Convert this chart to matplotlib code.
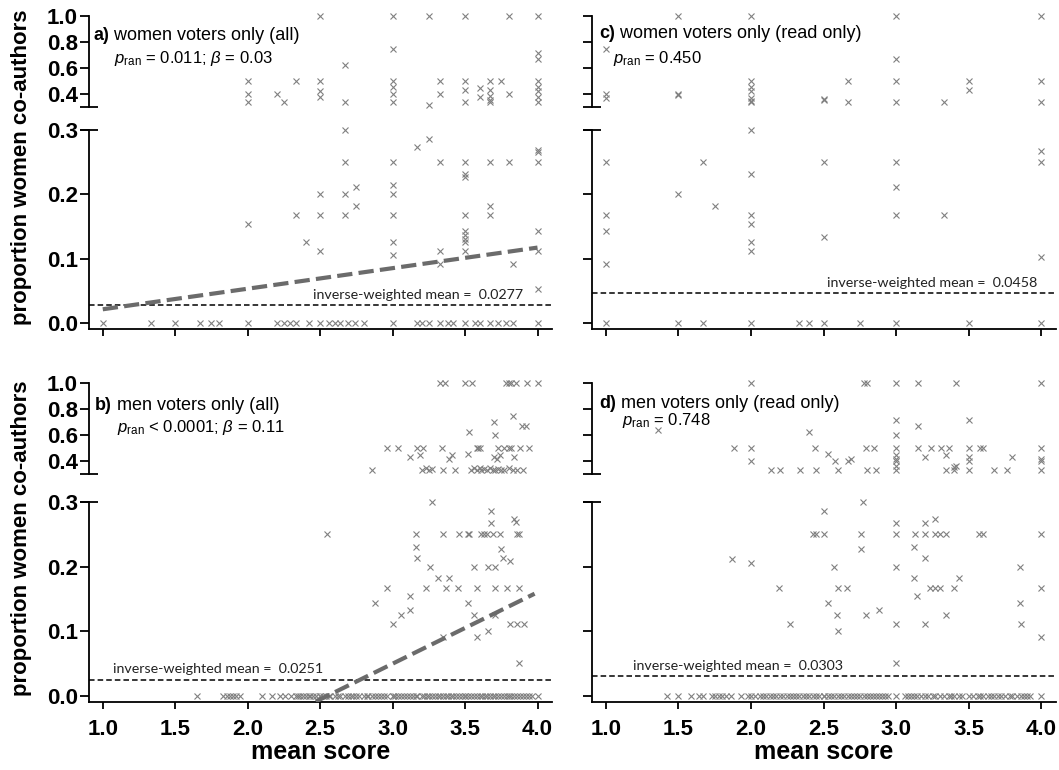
import numpy as np
import matplotlib
matplotlib.use("Agg")
from matplotlib import pyplot as plt
from matplotlib.lines import Line2D

plt.rcParams['font.family'] = ['Liberation Sans', 'DejaVu Sans']
plt.rcParams['mathtext.fontset'] = 'custom'
plt.rcParams['mathtext.rm'] = 'Liberation Sans'
plt.rcParams['mathtext.it'] = 'Liberation Sans:italic'
plt.rcParams['mathtext.bf'] = 'Liberation Sans:bold'
plt.rcParams['lines.scale_dashes'] = False

# ---------------- data ----------------
# a) women voters only (all)
a_x = [2.5, 3.0, 3.25, 3.5, 3.8, 4.0, 3.0, 2.67, 4.0, 4.0,
       2.0, 2.0, 2.0, 2.2, 2.25, 2.33, 2.5, 2.5, 2.5, 2.67,
       3.0, 3.0, 3.0, 3.0, 3.25, 3.33, 3.33, 3.5, 3.5, 3.5, 3.6, 3.6,
       3.67, 3.67, 3.67, 3.67, 3.67, 3.75, 3.8, 4.0, 4.0, 4.0, 4.0, 4.0,
       2.0, 2.33, 2.4, 2.5, 2.5, 2.5, 2.67, 2.67, 2.67, 2.67, 2.75, 2.75,
       3.0, 3.0, 3.0, 3.0, 3.0, 3.0, 3.17, 3.25, 3.33, 3.33, 3.33,
       3.5, 3.5, 3.5, 3.5, 3.5, 3.5, 3.5, 3.5, 3.5, 3.67, 3.67, 3.67,
       3.8, 3.83, 4.0, 4.0, 4.0, 4.0, 4.0, 4.0]
a_y = [1.0, 1.0, 1.0, 1.0, 1.0, 1.0, 0.75, 0.625, 0.714, 0.667,
       0.5, 0.4, 0.333, 0.4, 0.333, 0.5, 0.5, 0.417, 0.375, 0.333,
       0.5, 0.45, 0.4, 0.333, 0.312, 0.5, 0.4, 0.5, 0.429, 0.333, 0.444, 0.375,
       0.5, 0.429, 0.385, 0.35, 0.333, 0.5, 0.4, 0.5, 0.455, 0.417, 0.375, 0.333,
       0.154, 0.167, 0.125, 0.2, 0.167, 0.111, 0.3, 0.25, 0.2, 0.167, 0.211, 0.182,
       0.25, 0.214, 0.2, 0.167, 0.125, 0.105, 0.273, 0.286, 0.25, 0.111, 0.091,
       0.25, 0.231, 0.227, 0.167, 0.143, 0.136, 0.13, 0.125, 0.111, 0.25, 0.182, 0.167,
       0.25, 0.091, 0.269, 0.265, 0.25, 0.143, 0.111, 0.053]
a_zero = [1.0, 1.33, 1.5, 1.67, 1.75, 1.8, 2.0, 2.2, 2.25, 2.29, 2.33, 2.42,
          2.5, 2.56, 2.6, 2.64, 2.69, 2.74, 2.8, 3.0, 3.17, 3.2, 3.25, 3.33,
          3.38, 3.42, 3.5, 3.57, 3.6, 3.67, 3.73, 3.78, 3.83, 4.0]
a_reg_x = [1.0, 4.0]
a_reg_y = [0.021, 0.117]
a_mean = 0.0277

# b) men voters only (all)
b_x = [3.33, 3.36, 3.5, 3.55, 3.78, 3.8, 3.82, 3.85, 3.93, 4.0,
       3.7, 3.83, 3.89, 3.92, 3.53, 3.71,
       2.96, 3.04, 3.17, 3.21, 3.34, 3.58, 3.59, 3.6, 3.73, 3.77, 3.8, 3.82, 3.88, 3.94,
       3.12, 3.19, 3.39, 3.41, 3.52, 3.7, 3.72, 3.74, 3.84,
       2.86, 3.2, 3.23, 3.25, 3.27, 3.35, 3.43, 3.54, 3.56, 3.58, 3.6, 3.61, 3.63,
       3.65, 3.67, 3.69, 3.71, 3.73, 3.75, 3.77, 3.8, 3.83, 3.86, 3.9,
       2.55, 3.27, 3.68, 3.68, 3.84, 3.85,
       3.16, 3.35, 3.46, 3.52, 3.53, 3.61, 3.63, 3.65, 3.69, 3.74, 3.86, 3.87,
       3.16, 3.17, 3.26, 3.75, 3.76, 3.81, 3.56, 3.66, 3.71, 3.31, 3.39,
       2.96, 3.23, 3.37, 3.45, 3.58, 3.71, 3.79, 3.87,
       3.12, 3.52, 2.88, 3.12, 3.06, 3.0, 3.56, 3.71, 3.58, 3.66,
       3.81, 3.86, 3.91, 3.35, 3.87]
b_y = [1.0, 1.0, 1.0, 1.0, 1.0, 1.0, 1.0, 1.0, 1.0, 1.0,
       0.7, 0.75, 0.667, 0.667, 0.625, 0.6,
       0.5, 0.5, 0.5, 0.5, 0.5, 0.5, 0.5, 0.5, 0.5, 0.5, 0.5, 0.5, 0.5, 0.5,
       0.429, 0.444, 0.417, 0.444, 0.455, 0.429, 0.417, 0.444, 0.429,
       0.333, 0.333, 0.35, 0.333, 0.34, 0.333, 0.333, 0.333, 0.345, 0.333, 0.35, 0.333, 0.34,
       0.333, 0.345, 0.333, 0.333, 0.34, 0.333, 0.333, 0.345, 0.333, 0.333, 0.333,
       0.25, 0.3, 0.286, 0.267, 0.273, 0.269,
       0.25, 0.25, 0.25, 0.25, 0.25, 0.25, 0.25, 0.25, 0.25, 0.25, 0.25, 0.25,
       0.231, 0.214, 0.2, 0.227, 0.214, 0.208, 0.2, 0.2, 0.2, 0.182, 0.182,
       0.167, 0.167, 0.167, 0.167, 0.167, 0.167, 0.167, 0.167,
       0.154, 0.143, 0.143, 0.133, 0.125, 0.111, 0.125, 0.125, 0.091, 0.1,
       0.111, 0.111, 0.111, 0.091, 0.05]
b_zero = [1.65, 1.83, 1.86, 1.88, 1.9, 1.92, 1.95, 2.1, 2.17, 2.22, 2.26, 2.3,
          2.33, 2.35, 2.36, 2.38, 2.4, 2.42, 2.43, 2.45, 2.47, 2.5, 2.5, 2.52,
          2.54, 2.56, 2.57, 2.6, 2.62, 2.64, 2.67, 2.69, 2.71, 2.73, 2.75, 2.77,
          2.8, 2.82, 2.83, 2.86, 2.88, 2.9, 2.92, 2.94, 2.96, 3.0, 3.0, 3.02,
          3.04, 3.06, 3.08, 3.1, 3.12, 3.14, 3.16, 3.17, 3.2, 3.22, 3.24, 3.25,
          3.27, 3.29, 3.31, 3.33, 3.35, 3.37, 3.38, 3.4, 3.42, 3.44, 3.46, 3.48,
          3.5, 3.5, 3.52, 3.54, 3.56, 3.58, 3.6, 3.62, 3.64, 3.65, 3.67, 3.69,
          3.71, 3.73, 3.75, 3.77, 3.79, 3.8, 3.82, 3.84, 3.86, 3.88, 3.9, 3.92,
          3.94, 3.96, 4.0]
b_reg_x = [2.47, 3.98]
b_reg_y = [-0.009, 0.158]
b_mean = 0.0251

# c) women voters only (read only)
c_x = [1.0, 1.0, 1.0, 1.5, 1.5, 1.5, 2.0, 2.0, 2.0, 2.0, 2.0, 2.0, 2.0,
       2.5, 2.5, 2.67, 2.67, 3.0, 3.0, 3.0, 3.0, 3.33, 3.5, 3.5, 4.0, 4.0, 4.0,
       1.0, 1.0, 1.0, 1.0, 1.67, 1.5, 1.75, 2.0, 2.0, 2.0, 2.0, 2.0, 2.0,
       2.5, 2.5, 3.0, 3.0, 3.0, 3.33, 4.0, 4.0, 4.0]
c_y = [0.75, 0.4, 0.364, 1.0, 0.4, 0.391, 1.0, 0.5, 0.455, 0.417, 0.364, 0.333, 0.34,
       0.357, 0.35, 0.5, 0.333, 1.0, 0.667, 0.5, 0.333, 0.333, 0.5, 0.429, 1.0, 0.5, 0.333,
       0.25, 0.167, 0.143, 0.091, 0.25, 0.2, 0.182, 0.3, 0.231, 0.167, 0.154, 0.125, 0.111,
       0.25, 0.133, 0.25, 0.211, 0.167, 0.167, 0.267, 0.25, 0.103]
c_zero = [1.0, 1.5, 1.67, 2.0, 2.33, 2.4, 2.5, 2.75, 3.0, 3.5, 4.0]
c_mean = 0.0458

# d) men voters only (read only)
d_x = [2.0, 2.78, 2.8, 3.0, 3.15, 3.41, 4.0,
       1.36, 3.0, 3.5, 3.15, 2.4, 3.0,
       1.88, 2.0, 2.44, 2.79, 2.85, 3.0, 3.15, 3.24, 3.31, 3.36, 3.5, 3.58, 3.6, 4.0,
       2.0, 2.53, 2.58, 2.67, 2.69, 3.2, 3.34, 3.8,
       3.0, 3.0, 3.0, 3.0, 3.0, 3.5, 3.5, 3.5, 3.4, 3.41, 4.0, 4.0,
       2.14, 2.2, 2.34, 2.45, 2.6, 2.8, 2.86, 3.34, 3.4, 3.67, 3.76, 4.0,
       2.77, 2.5, 3.0, 3.2, 3.27,
       2.43, 2.45, 2.5, 2.76, 3.0, 3.13, 3.2, 3.27, 3.3, 3.34, 3.57, 3.6, 4.0,
       2.76, 3.12, 3.2, 1.87, 2.0, 2.57, 3.0, 3.85, 3.12, 3.43,
       2.19, 2.6, 2.66, 3.23, 3.27, 3.3, 3.4, 4.0,
       3.14, 2.53, 3.85, 2.59, 2.79, 2.88, 3.34, 2.27, 2.6, 3.0, 3.2, 3.86, 4.0, 3.0]
d_y = [1.0, 1.0, 1.0, 1.0, 1.0, 1.0, 1.0,
       0.64, 0.714, 0.714, 0.667, 0.625, 0.6,
       0.5, 0.5, 0.5, 0.5, 0.5, 0.5, 0.5, 0.5, 0.5, 0.5, 0.5, 0.5, 0.5, 0.5,
       0.4, 0.455, 0.4, 0.4, 0.417, 0.429, 0.444, 0.429,
       0.444, 0.417, 0.4, 0.364, 0.333, 0.429, 0.4, 0.333, 0.357, 0.364, 0.417, 0.4,
       0.333, 0.333, 0.333, 0.333, 0.333, 0.333, 0.333, 0.333, 0.333, 0.333, 0.333, 0.333,
       0.3, 0.286, 0.267, 0.267, 0.273,
       0.25, 0.25, 0.25, 0.25, 0.25, 0.25, 0.25, 0.25, 0.25, 0.25, 0.25, 0.25, 0.25,
       0.227, 0.231, 0.214, 0.211, 0.205, 0.2, 0.2, 0.2, 0.182, 0.182,
       0.167, 0.167, 0.167, 0.167, 0.167, 0.167, 0.167, 0.167,
       0.154, 0.143, 0.143, 0.125, 0.125, 0.133, 0.125, 0.111, 0.1, 0.111, 0.111, 0.111, 0.091, 0.05]
d_zero = [1.42, 1.5, 1.59, 1.64, 1.67, 1.73, 1.75, 1.78, 1.8, 1.83, 1.86, 1.93,
          1.98, 2.0, 2.03, 2.06, 2.08, 2.1, 2.13, 2.15, 2.17, 2.2, 2.22, 2.25,
          2.27, 2.29, 2.31, 2.33, 2.36, 2.38, 2.4, 2.43, 2.45, 2.47, 2.5, 2.5,
          2.53, 2.55, 2.57, 2.6, 2.62, 2.64, 2.67, 2.69, 2.71, 2.73, 2.75, 2.78,
          2.8, 2.82, 2.84, 2.86, 2.88, 2.9, 2.92, 2.94, 3.0, 3.06, 3.08, 3.1,
          3.12, 3.14, 3.17, 3.2, 3.22, 3.25, 3.27, 3.3, 3.33, 3.36, 3.38, 3.4,
          3.43, 3.45, 3.5, 3.53, 3.56, 3.58, 3.6, 3.63, 3.65, 3.67, 3.7, 3.72,
          3.75, 3.78, 3.8, 3.83, 3.86, 3.88, 3.9, 3.92, 4.0]
d_mean = 0.0303

# ---------------- layout (pixels) ----------------
W, H = 1059, 770
fig = plt.figure(figsize=(W / 100, H / 100), dpi=100)

col_lr = [(89, 552), (592, 1056)]
row_up = [(16.5, 106.5), (383, 474)]
row_lo = [(130, 329), (502, 702)]
XLIM = (0.905, 4.1)
MK = dict(ls='none', marker='x', color='0.5', ms=5, mew=0.8, clip_on=False, zorder=3)
TICKFONT = dict(family='Liberation Sans', weight='bold', size=16)


def add_ax(l, t, r, b):
    return fig.add_axes([l / W, 1 - b / H, (r - l) / W, (b - t) / H])


def cap(x, y):
    # small horizontal bar marking the broken axis
    fig.add_artist(Line2D([(x - 9) / W, (x + 9) / W], [1 - y / H, 1 - y / H],
                          transform=fig.transFigure, color='black', lw=1.3,
                          solid_capstyle='butt'))


def panel(col, row, xs, ys, zeros, mean, mean_x, mean_ha, letter, title,
          stat, title_pos, stat_pos, reg=None):
    l, r = col_lr[col]
    ut, ub = row_up[row]
    lt, lb = row_lo[row]
    xs = np.array(xs)
    ys = np.array(ys)

    up = add_ax(l, ut, r, ub)
    lo = add_ax(l, lt, r, lb)
    for ax in (up, lo):
        ax.set_xlim(*XLIM)
        ax.patch.set_visible(False)
        for s in ('top', 'right'):
            ax.spines[s].set_visible(False)
        ax.spines['left'].set_linewidth(1.3)
        ax.tick_params(axis='y', direction='out', length=6.5, width=1.3, pad=1.5)
    up.spines['bottom'].set_visible(False)
    up.set_xticks([])
    up.set_ylim(0.3, 1.0)
    up.set_yticks([0.4, 0.6, 0.8, 1.0])
    lo.set_ylim(-0.0097, 0.3)
    lo.set_yticks([0.0, 0.1, 0.2, 0.3])
    lo.spines['bottom'].set_linewidth(1.3)
    lo.set_xticks([1.0, 1.5, 2.0, 2.5, 3.0, 3.5, 4.0])
    lo.tick_params(axis='x', direction='out', length=5, width=1.3, pad=7)
    if col == 0:
        up.set_yticklabels(['0.4', '0.6', '0.8', '1.0'], **TICKFONT)
        lo.set_yticklabels(['0.0', '0.1', '0.2', '0.3'], **TICKFONT)
    else:
        up.set_yticklabels([])
        lo.set_yticklabels([])
    if row == 1:
        lo.set_xticklabels(['1.0', '1.5', '2.0', '2.5', '3.0', '3.5', '4.0'], **TICKFONT)
    else:
        lo.set_xticklabels([])

    hi = ys > 0.3
    up.plot(xs[hi], ys[hi], **MK)
    lo.plot(xs[~hi], ys[~hi], **MK)
    lo.plot(zeros, np.zeros(len(zeros)), **MK)

    lo.axhline(mean, color='black', lw=1.1, dashes=(4, 2.2), zorder=4)
    lo.annotate('inverse-weighted mean =  %.4f' % mean, xy=(mean_x, mean),
                xytext=(0, 3), textcoords='offset points', ha=mean_ha,
                va='bottom', family='Lato', size=10.3, color='#222222')
    if reg is not None:
        lo.plot(reg[0], reg[1], color='0.42', lw=3, dashes=(11, 4.5), zorder=5)

    cap(l, ub)
    cap(l, lt)

    t = fig.text((l + title_pos[0]) / W, 1 - (ut + title_pos[1]) / H, letter,
                 weight='bold', size=13, va='baseline')
    up.annotate(title, xy=(1, 0), xycoords=t, va='bottom', size=13)
    fig.text((l + stat_pos[0]) / W, 1 - (ut + stat_pos[1]) / H, stat, size=12,
             va='baseline')
    return up, lo


panel(0, 0, a_x, a_y, a_zero, a_mean, 3.9, 'right', 'a)',
      ' women voters only (all)',
      r'$p_{\mathrm{ran}}$ = 0.011; $\beta$ = 0.03', (4, 23.5), (24.5, 46),
      reg=(a_reg_x, a_reg_y))
panel(0, 1, b_x, b_y, b_zero, b_mean, 1.07, 'left', 'b)',
      ' men voters only (all)',
      r'$p_{\mathrm{ran}}$ < 0.0001; $\beta$ = 0.11', (6, 27), (28, 49),
      reg=(b_reg_x, b_reg_y))
panel(1, 0, c_x, c_y, c_zero, c_mean, 3.97, 'right', 'c)',
      ' women voters only (read only)', r'$p_{\mathrm{ran}}$ = 0.450',
      (7, 22), (21, 46))
panel(1, 1, d_x, d_y, d_zero, d_mean, 1.19, 'left', 'd)',
      ' men voters only (read only)', r'$p_{\mathrm{ran}}$ = 0.748',
      (7, 25), (30, 42))

for yc in (167, 538):
    fig.text(22 / W, 1 - yc / H, 'proportion women co-authors', rotation=90,
             ha='center', va='center', weight='bold', size=16)
for xc in (321, 824):
    fig.text(xc / W, 1 - 752 / H, 'mean score', ha='center', va='center',
             weight='bold', size=18)

fig.savefig('out.png', dpi=100)
